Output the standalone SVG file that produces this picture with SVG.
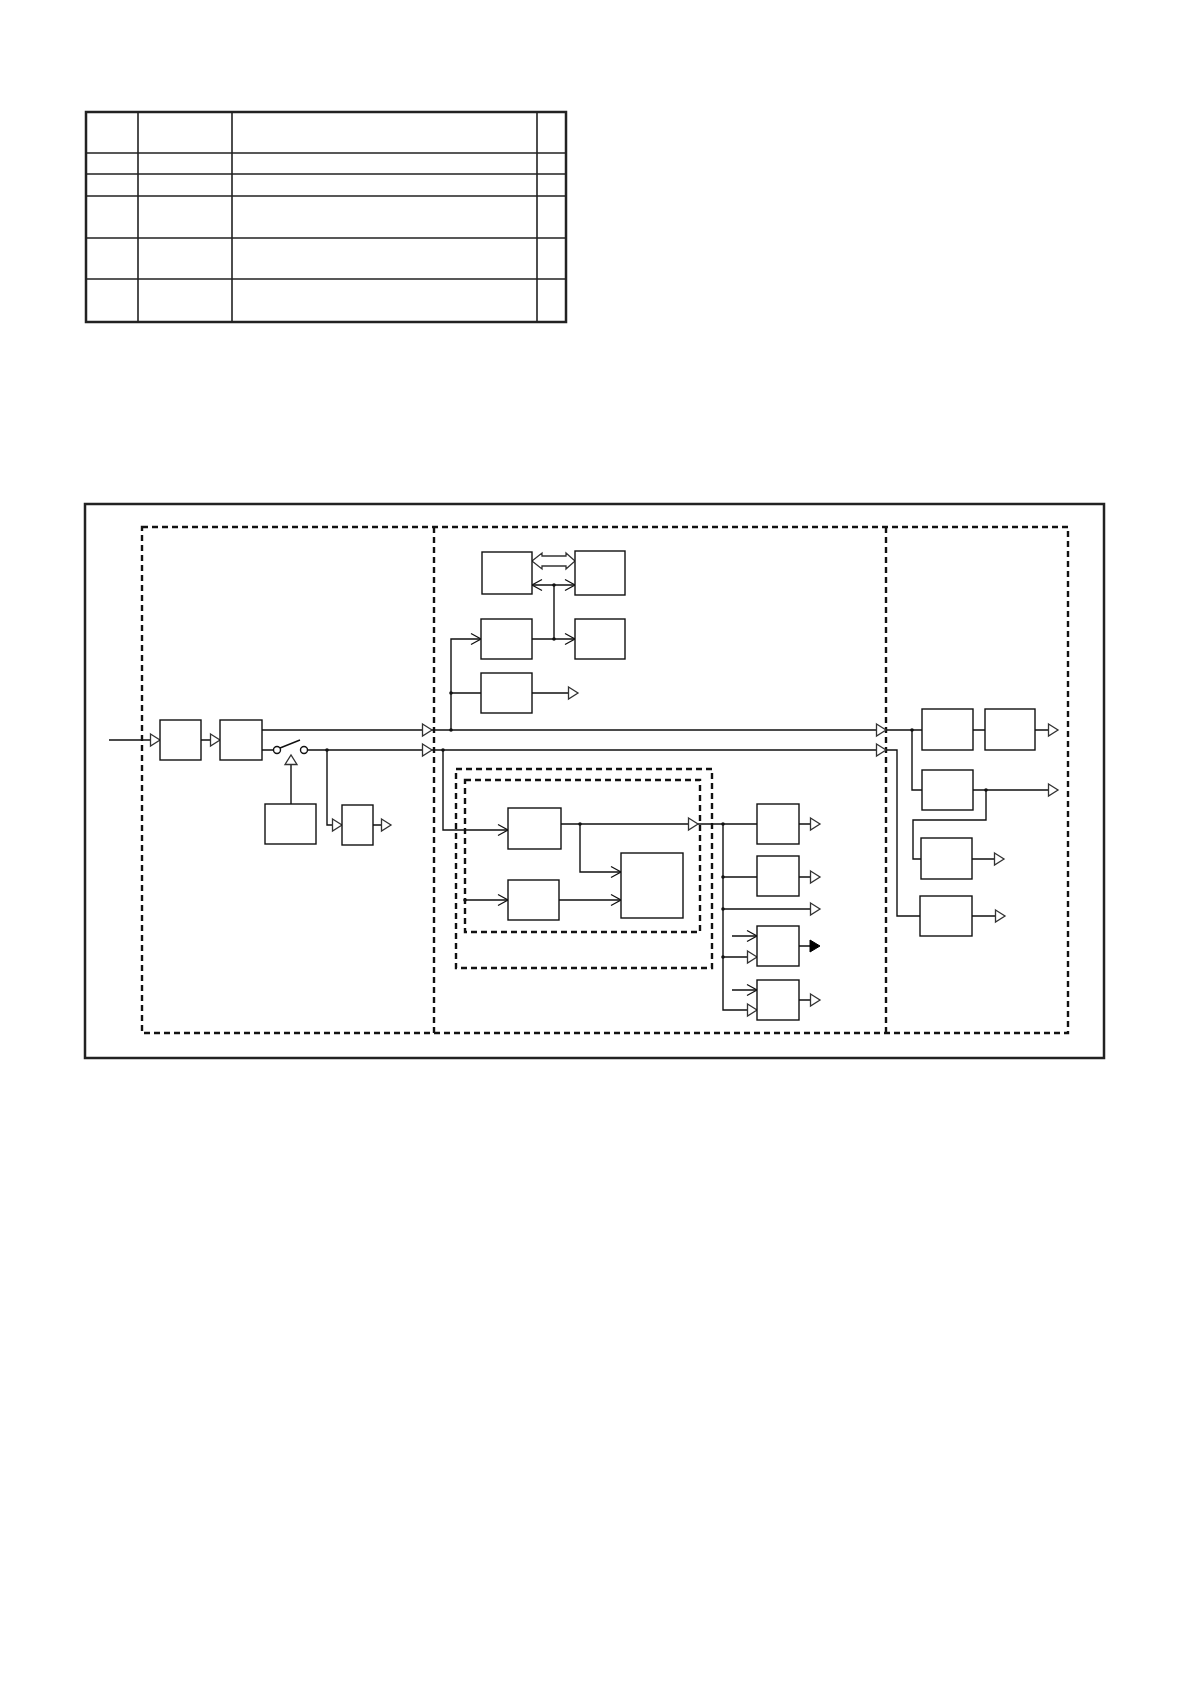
<svg xmlns="http://www.w3.org/2000/svg" xmlns:xlink="http://www.w3.org/1999/xlink" width="1190" height="1684" viewBox="0 0 1190 1684">
<style>
.frame{fill:none;stroke:#222;stroke-width:2.5}
.grid{stroke:#222;stroke-width:1.6;fill:none}
.dash{fill:none;stroke:#111;stroke-width:2.4;stroke-dasharray:6 4}
.box{fill:#fff;stroke:#111;stroke-width:1.4}
.ln{fill:none;stroke:#111;stroke-width:1.4}
.tri{fill:#fff;stroke:#333;stroke-width:1.3}
.ftri{fill:#000;stroke:#000;stroke-width:1}
.chev{fill:none;stroke:#111;stroke-width:1.3}
.dot{fill:#111}
</style>
<defs>
<path id="tri" d="M-9.5,-6 L0,0 L-9.5,6 Z"/>
<path id="chev" d="M-10,-5.5 L0,0 L-10,5.5"/>
</defs>
<rect width="1190" height="1684" fill="#fff"/>
<g id="table">
<rect class="frame" x="86" y="112" width="480" height="210"/>
<path class="grid" d="M138,112V322 M232,112V322 M537,112V322 M86,153H566 M86,174H566 M86,196H566 M86,238H566 M86,279H566"/>
</g>
<g id="frames">
<rect class="frame" x="85" y="504" width="1019" height="554"/>
<rect class="dash" x="142" y="527" width="926" height="506"/>
<path class="dash" d="M434,527V1033 M886,527V1033"/>
<rect class="dash" x="456" y="769" width="256" height="199"/>
<rect class="dash" x="465" y="780" width="235" height="152"/>
</g>
<g id="connectors">
<path class="ln" d="M109,740H160 M201,740H220 M262,730H922 M262,750H273.5 M280,748L300,740 M307.5,750H897V916H920"/>
<circle class="ln" cx="277" cy="750" r="3.5" fill="#fff"/>
<circle class="ln" cx="304" cy="750" r="3.5" fill="#fff"/>
<path class="ln" d="M327,750V825H342 M373,825H391 M291,764V804"/>
<path class="ln" d="M451,730V639H481 M451,693H481 M532,693H578 M532,639H575 M554,639V585 M532,585H575"/>
<path class="ln" d="M443,750V830H508 M561,824H757 M580,824V872H621 M465,900H508 M559,900H621 M723,824V1010H757 M799,824H820 M723,877H757 M799,877H820 M723,909H820 M732,936H757 M723,957H757 M799,946H811 M732,990H757 M799,1000H820"/>
<path class="ln" d="M912,730V790H922 M973,730H985 M1035,730H1058 M973,790H1058 M986,790V820H913V859H921 M972,859H1004 M972,916H1005"/>
<path class="tri" d="M532,561 L542,553 L542,556 L566,556 L566,553 L575,561 L566,569 L566,566 L542,566 L542,569 Z"/>
<g class="tri">
<use xlink:href="#tri" x="160" y="740"/>
<use xlink:href="#tri" x="220" y="740"/>
<use xlink:href="#tri" x="432" y="730"/>
<use xlink:href="#tri" x="432" y="750"/>
<use xlink:href="#tri" x="886" y="730"/>
<use xlink:href="#tri" x="886" y="750"/>
<use xlink:href="#tri" x="342" y="825"/>
<use xlink:href="#tri" x="391" y="825"/>
<use xlink:href="#tri" transform="translate(291,755) rotate(-90)"/>
<use xlink:href="#tri" x="578" y="693"/>
<use xlink:href="#tri" x="698" y="824"/>
<use xlink:href="#tri" x="820" y="824"/>
<use xlink:href="#tri" x="820" y="877"/>
<use xlink:href="#tri" x="820" y="909"/>
<use xlink:href="#tri" x="757" y="957"/>
<use xlink:href="#tri" x="757" y="1010"/>
<use xlink:href="#tri" x="820" y="1000"/>
<use xlink:href="#tri" x="1058" y="730"/>
<use xlink:href="#tri" x="1058" y="790"/>
<use xlink:href="#tri" x="1004" y="859"/>
<use xlink:href="#tri" x="1005" y="916"/>
</g>
<path class="ftri" d="M810,940 L820,946 L810,952 Z"/>
<g class="chev">
<use xlink:href="#chev" x="481" y="639"/>
<use xlink:href="#chev" x="575" y="639"/>
<use xlink:href="#chev" x="575" y="585"/>
<use xlink:href="#chev" transform="translate(532,585) rotate(180)"/>
<use xlink:href="#chev" x="508" y="830"/>
<use xlink:href="#chev" x="621" y="872"/>
<use xlink:href="#chev" x="508" y="900"/>
<use xlink:href="#chev" x="621" y="900"/>
<use xlink:href="#chev" x="757" y="936"/>
<use xlink:href="#chev" x="757" y="990"/>
</g>
<g class="dot">
<circle cx="327" cy="750" r="1.8"/>
<circle cx="451" cy="730" r="1.8"/>
<circle cx="451" cy="693" r="1.8"/>
<circle cx="443" cy="750" r="1.8"/>
<circle cx="554" cy="639" r="1.8"/>
<circle cx="554" cy="585" r="1.8"/>
<circle cx="580" cy="824" r="1.8"/>
<circle cx="465" cy="900" r="1.8"/>
<circle cx="723" cy="824" r="1.8"/>
<circle cx="723" cy="877" r="1.8"/>
<circle cx="723" cy="909" r="1.8"/>
<circle cx="723" cy="957" r="1.8"/>
<circle cx="912" cy="730" r="1.8"/>
<circle cx="986" cy="790" r="1.8"/>
</g>
</g>
<g id="n1"><rect class="box" x="160" y="720" width="41" height="40"/></g>
<g id="n2"><rect class="box" x="220" y="720" width="42" height="40"/></g>
<g id="n3"><rect class="box" x="265" y="804" width="51" height="40"/></g>
<g id="n4"><rect class="box" x="342" y="805" width="31" height="40"/></g>
<g id="nA"><rect class="box" x="482" y="552" width="50" height="42"/></g>
<g id="nB"><rect class="box" x="575" y="551" width="50" height="44"/></g>
<g id="nC"><rect class="box" x="481" y="619" width="51" height="40"/></g>
<g id="nD"><rect class="box" x="575" y="619" width="50" height="40"/></g>
<g id="nE"><rect class="box" x="481" y="673" width="51" height="40"/></g>
<g id="nF"><rect class="box" x="508" y="808" width="53" height="41"/></g>
<g id="nG"><rect class="box" x="621" y="853" width="62" height="65"/></g>
<g id="nI"><rect class="box" x="508" y="880" width="51" height="40"/></g>
<g id="nH"><rect class="box" x="757" y="804" width="42" height="40"/></g>
<g id="nJ"><rect class="box" x="757" y="856" width="42" height="40"/></g>
<g id="nK"><rect class="box" x="757" y="926" width="42" height="40"/></g>
<g id="nL"><rect class="box" x="757" y="980" width="42" height="40"/></g>
<g id="nM"><rect class="box" x="922" y="709" width="51" height="41"/></g>
<g id="nN"><rect class="box" x="985" y="709" width="50" height="41"/></g>
<g id="nO"><rect class="box" x="922" y="770" width="51" height="40"/></g>
<g id="nP"><rect class="box" x="921" y="838" width="51" height="41"/></g>
<g id="nQ"><rect class="box" x="920" y="896" width="52" height="40"/></g>
</svg>
